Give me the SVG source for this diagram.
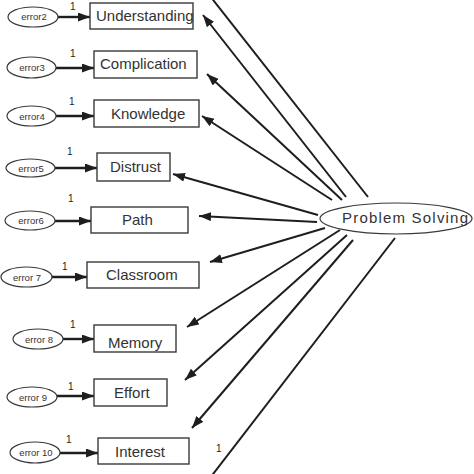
<svg xmlns="http://www.w3.org/2000/svg" width="474" height="474" viewBox="0 0 474 474">
<defs>
<marker id="ah" markerUnits="userSpaceOnUse" markerWidth="13" markerHeight="10" refX="12" refY="4.5" orient="auto">
<path d="M0,0 L12,4.5 L0,9 z" fill="#1e1e1e"/>
</marker>
<style>
.box{fill:#fff;stroke:#3a3a3a;stroke-width:1.4}
.ell{fill:#fff;stroke:#3a3a3a;stroke-width:1.2}
.lbl{font-family:"Liberation Sans",Arial,sans-serif;font-size:15px;fill:#333}
.err{font-family:"Liberation Sans",Arial,sans-serif;font-size:9.5px;fill:#333;text-anchor:middle}
.one{font-family:"Liberation Sans",Arial,sans-serif;font-size:10px;fill:#222}
.ea{stroke:#1e1e1e;stroke-width:2.4;fill:none;marker-end:url(#ah)}
.ma{stroke:#1e1e1e;stroke-width:2;fill:none;marker-end:url(#ah)}
.ml{stroke:#1e1e1e;stroke-width:2;fill:none}
</style>
</defs>
<rect width="474" height="474" fill="#fff"/>
<g id="connectors">
<line class="ea" x1="58" y1="17" x2="90" y2="17"/>
<line class="ea" x1="56" y1="68" x2="94" y2="68"/>
<line class="ea" x1="56" y1="116" x2="94" y2="116"/>
<line class="ea" x1="55" y1="168" x2="97" y2="168"/>
<line class="ea" x1="55" y1="221" x2="91" y2="221"/>
<line class="ea" x1="52" y1="277" x2="87" y2="277"/>
<line class="ea" x1="63" y1="339" x2="94" y2="339"/>
<line class="ea" x1="57" y1="396" x2="94" y2="396"/>
<line class="ea" x1="60" y1="453" x2="98" y2="453"/>
<line class="ml" x1="368" y1="197" x2="210" y2="-4"/>
<line class="ma" x1="346" y1="197" x2="203" y2="15"/>
<line class="ma" x1="342" y1="200" x2="207" y2="74"/>
<line class="ma" x1="332" y1="200" x2="202" y2="116"/>
<line class="ma" x1="318" y1="215" x2="173" y2="174"/>
<line class="ma" x1="317" y1="222" x2="199" y2="216"/>
<line class="ma" x1="325" y1="228" x2="210" y2="262"/>
<line class="ma" x1="340" y1="230" x2="187" y2="327"/>
<line class="ma" x1="347" y1="235" x2="185" y2="380"/>
<line class="ma" x1="353" y1="240" x2="192" y2="428"/>
<line class="ml" x1="395" y1="238" x2="210" y2="478"/>
<text class="one" x="70" y="10">1</text>
<text class="one" x="70" y="57">1</text>
<text class="one" x="69" y="105">1</text>
<text class="one" x="67" y="155">1</text>
<text class="one" x="68" y="202">1</text>
<text class="one" x="62" y="270">1</text>
<text class="one" x="70" y="328">1</text>
<text class="one" x="68" y="390">1</text>
<text class="one" x="66" y="443">1</text>
<text class="one" x="216" y="452">1</text>
</g>
<g id="problem-solving">
<ellipse class="ell" cx="396" cy="218.5" rx="76" ry="15.5"/>
<text class="lbl" x="342" y="223" textLength="126" lengthAdjust="spacing">Problem Solving</text>
</g>
<g id="understanding"><rect class="box" x="90" y="3" width="103" height="26"/><text class="lbl" x="96" y="21">Understanding</text></g>
<g id="complication"><rect class="box" x="94" y="51" width="103" height="27"/><text class="lbl" x="100" y="69">Complication</text></g>
<g id="knowledge"><rect class="box" x="94" y="100" width="105" height="27"/><text class="lbl" x="111" y="119">Knowledge</text></g>
<g id="distrust"><rect class="box" x="97" y="153" width="73" height="28"/><text class="lbl" x="110" y="172">Distrust</text></g>
<g id="path"><rect class="box" x="91" y="207" width="97" height="26"/><text class="lbl" x="122" y="225">Path</text></g>
<g id="classroom"><rect class="box" x="87" y="262" width="112" height="26"/><text class="lbl" x="106" y="280">Classroom</text></g>
<g id="memory"><rect class="box" x="94" y="325" width="82" height="27"/><text class="lbl" x="108" y="348">Memory</text></g>
<g id="effort"><rect class="box" x="94" y="379" width="73" height="27"/><text class="lbl" x="114" y="398">Effort</text></g>
<g id="interest"><rect class="box" x="98" y="438" width="91" height="26"/><text class="lbl" x="115" y="457">Interest</text></g>
<g id="error2"><ellipse class="ell" cx="33" cy="17" rx="25" ry="10"/><text class="err" x="34" y="20">error2</text></g>
<g id="error3"><ellipse class="ell" cx="31.5" cy="67.5" rx="24.5" ry="10.5"/><text class="err" x="32" y="71">error3</text></g>
<g id="error4"><ellipse class="ell" cx="31.5" cy="116" rx="24.5" ry="10"/><text class="err" x="32" y="119.5">error4</text></g>
<g id="error5"><ellipse class="ell" cx="30.5" cy="168" rx="24.5" ry="9"/><text class="err" x="31" y="171.5">error5</text></g>
<g id="error6"><ellipse class="ell" cx="30" cy="220.5" rx="25" ry="9.5"/><text class="err" x="31" y="224">error6</text></g>
<g id="error7"><ellipse class="ell" cx="26.5" cy="277" rx="25.5" ry="10"/><text class="err" x="27" y="280.5">error 7</text></g>
<g id="error8"><ellipse class="ell" cx="38" cy="339" rx="25" ry="10"/><text class="err" x="39" y="342.5">error 8</text></g>
<g id="error9"><ellipse class="ell" cx="32" cy="397" rx="25" ry="10"/><text class="err" x="33" y="400.5">error 9</text></g>
<g id="error10"><ellipse class="ell" cx="35" cy="452.5" rx="25" ry="10.5"/><text class="err" x="36" y="456">error 10</text></g>
</svg>
